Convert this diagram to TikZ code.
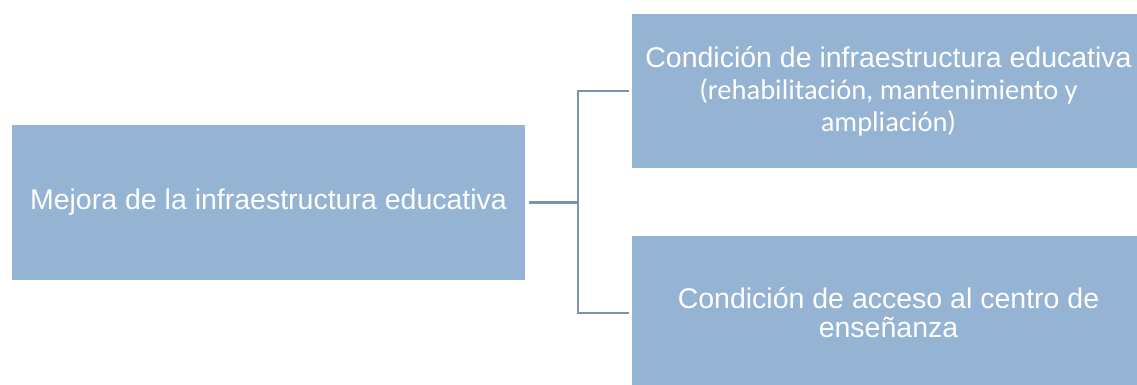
\documentclass[tikz,border=0pt]{standalone}
\usepackage{fontspec}
\setmainfont{Liberation Sans}
\newfontfamily\calibri{Carlito}
\definecolor{boxfill}{HTML}{95B3D3}
\definecolor{linecol}{HTML}{7A94AE}
\begin{document}
\begin{tikzpicture}[x=1pt,y=-1pt,
  box/.style={draw=none,fill=boxfill,text=white,inner sep=0pt,align=center,
    font=\fontsize{28.5}{31}\selectfont},
  conn/.style={draw=linecol,line width=2.4pt}]
\clip (0,0) rectangle (1137,385);
\fill[white] (0,0) rectangle (1137,385);
\node[box,minimum width=513pt,minimum height=155pt] (L) at (268.5,202.5)
  {Mejora de la infraestructura educativa};
\node[box,minimum width=513pt,minimum height=154pt] (T) at (888.5,91)
  {Condición de infraestructura educativa\\[1.5pt]{\calibri(rehabilitación, mantenimiento y}\\[0.5pt]{\calibri ampliación)}};
\node[box,minimum width=513pt,minimum height=154pt] (B) at (888.5,313)
  {Condición de acceso al centro de\\[-2pt]enseñanza};
\coordinate (J) at (578,202.5);
\draw[conn] ([xshift=4pt]L.east) -- (J);
\draw[conn] (J) |- ([xshift=-3pt]T.west);
\draw[conn] (J) |- ([xshift=-3pt]B.west);
\end{tikzpicture}
\end{document}
